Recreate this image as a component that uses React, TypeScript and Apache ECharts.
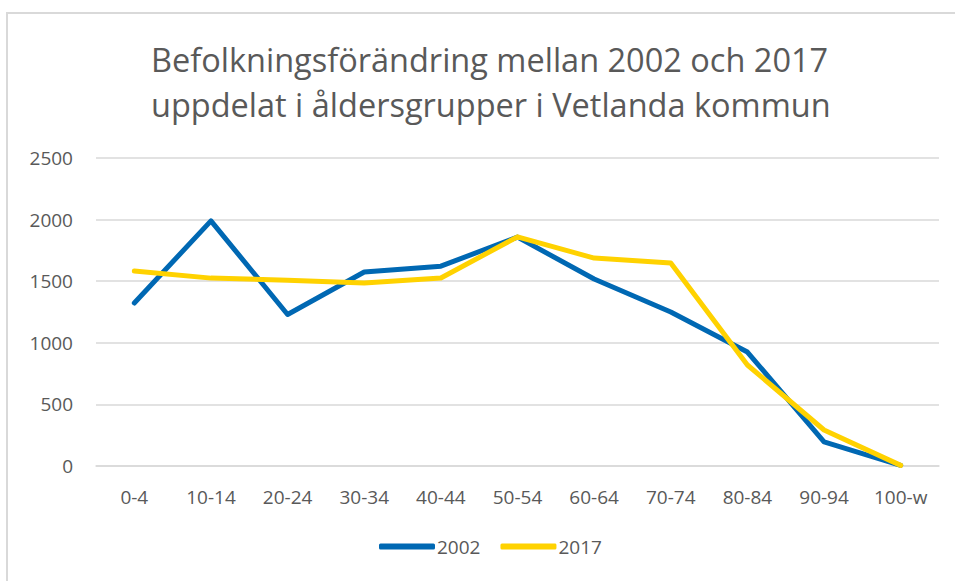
import React, { useEffect, useRef } from "react";
import * as echarts from "echarts";

const categories = ["0-4", "10-14", "20-24", "30-34", "40-44", "50-54", "60-64", "70-74", "80-84", "90-94", "100-w"];
const values2002 = [1323, 1990, 1230, 1575, 1622, 1858, 1518, 1250, 925, 195, 5];
const values2017 = [1583, 1525, 1508, 1485, 1526, 1860, 1688, 1648, 820, 292, 5];
const yTicks = { min: 0, max: 2500, interval: 500 };
const titleLines = ["Befolkningsförändring mellan 2002 och 2017", "uppdelat i åldersgrupper i Vetlanda kommun"];

const FONT = "'Open Sans', 'Noto Sans', sans-serif";
const GREY = "#595959";

export default function App() {
  const ref = useRef<HTMLDivElement>(null);
  useEffect(() => {
    if (!ref.current) return;
    const chart = echarts.init(ref.current, undefined, { renderer: "svg" });
    chart.setOption({
      animation: false,
      backgroundColor: "#ffffff",
      title: {
        text: titleLines.join("\n"),
        left: 146,
        top: 32,
        textStyle: { fontFamily: FONT, fontSize: 32.5, fontWeight: "normal", color: GREY, lineHeight: 45 },
      },
      graphic: [
        {
          type: "rect",
          shape: { x: 7, y: 13, width: 1000, height: 1000 },
          style: { fill: "none", stroke: "#d9d9d9", lineWidth: 2 },
          silent: true,
        },
      ],
      legend: {
        bottom: 20,
        left: 374,
        itemWidth: 56,
        itemHeight: 6,
        itemGap: 20,
        icon: "roundRect",
        textStyle: { fontFamily: FONT, fontSize: 19, color: GREY, padding: [0, 0, 0, -3] },
        data: ["2002", "2017"],
      },
      grid: { left: 96, right: 16, top: 158, bottom: 115, containLabel: false },
      xAxis: {
        type: "category",
        data: categories,
        boundaryGap: true,
        axisLine: { show: true, lineStyle: { color: "#d9d9d9", width: 1.5 } },
        axisTick: { show: false },
        axisLabel: { fontFamily: FONT, fontSize: 19, color: GREY, margin: 21, interval: 0 },
      },
      yAxis: {
        type: "value",
        min: yTicks.min,
        max: yTicks.max,
        interval: yTicks.interval,
        axisLine: { show: false },
        axisTick: { show: false },
        splitLine: { lineStyle: { color: "#d9d9d9", width: 1.5 } },
        axisLabel: { fontFamily: FONT, fontSize: 19, color: GREY, margin: 23, formatter: (v: number) => String(v) },
      },
      series: [
        {
          name: "2002",
          type: "line",
          data: values2002,
          symbol: "none",
          lineStyle: { color: "#0068B3", width: 5, cap: "round", join: "round" },
          itemStyle: { color: "#0068B3" },
        },
        {
          name: "2017",
          type: "line",
          data: values2017,
          symbol: "none",
          lineStyle: { color: "#FFD200", width: 5, cap: "round", join: "round" },
          itemStyle: { color: "#FFD200" },
        },
      ],
    });
    return () => chart.dispose();
  }, []);
  return <div ref={ref} style={{ position: "absolute", left: 0, top: 0, width: 955, height: 581 }} />;
}
